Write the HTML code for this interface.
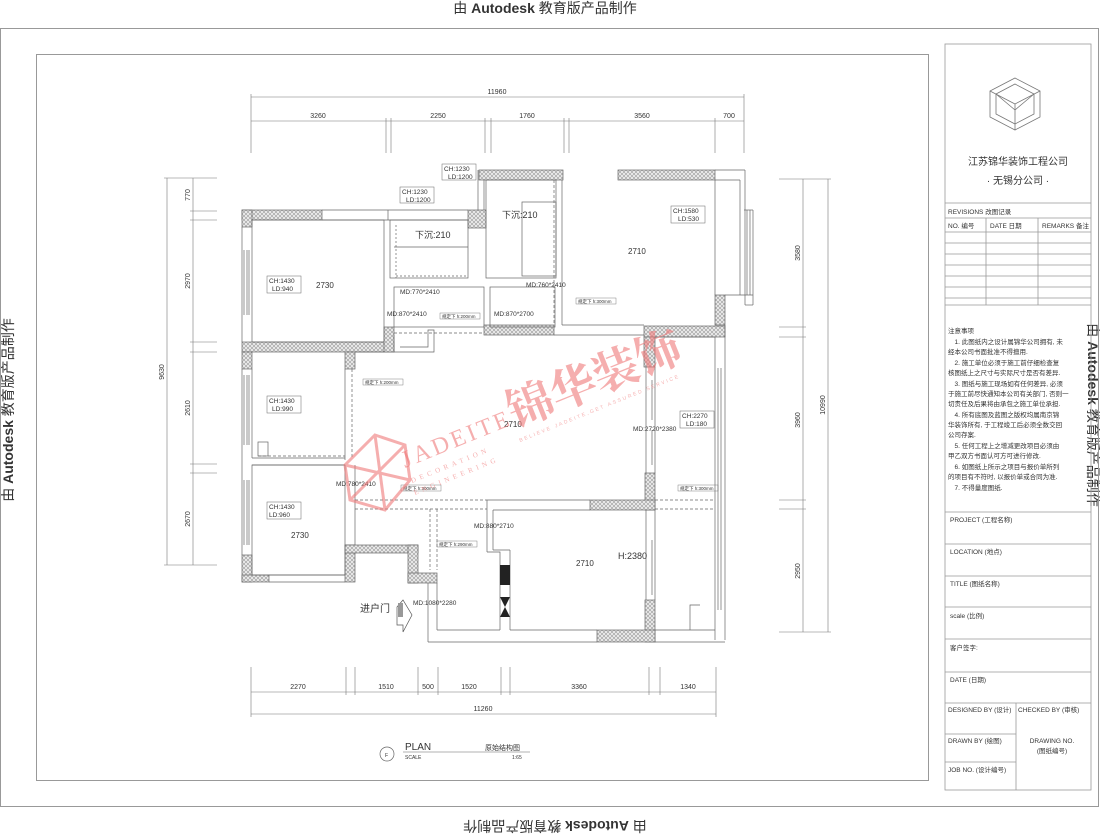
<!DOCTYPE html>
<html><head><meta charset="utf-8"><style>
html,body{margin:0;padding:0;background:#fff;}
svg{display:block;}
text{font-family:"Liberation Sans","Noto Sans CJK SC",sans-serif;fill:#333;}
</style></head><body>
<svg width="1100" height="835" viewBox="0 0 1100 835" xmlns="http://www.w3.org/2000/svg">
<defs>
<pattern id="h" width="4" height="4" patternUnits="userSpaceOnUse">
<rect width="4" height="4" fill="#e6e6e6"/>
<path d="M0 4L4 0M0 0L4 4" stroke="#888" stroke-width="0.5"/>
</pattern>
</defs>
<!-- Autodesk texts -->
<text x="545" y="13" font-size="14" text-anchor="middle">由 <tspan font-weight="bold">Autodesk</tspan> 教育版产品制作</text>
<text transform="translate(555,821) rotate(180)" font-size="14" text-anchor="middle">由 <tspan font-weight="bold">Autodesk</tspan> 教育版产品制作</text>
<text transform="translate(13,410) rotate(-90)" font-size="14" text-anchor="middle">由 <tspan font-weight="bold">Autodesk</tspan> 教育版产品制作</text>
<text transform="translate(1088,415) rotate(90)" font-size="14" text-anchor="middle">由 <tspan font-weight="bold">Autodesk</tspan> 教育版产品制作</text>

<!-- frames -->
<rect x="0.5" y="28.5" width="1098" height="778" fill="none" stroke="#999" stroke-width="1"/>
<rect x="36.5" y="54.5" width="892" height="726" fill="none" stroke="#999" stroke-width="1"/>

<!-- title block -->
<g stroke="#999" stroke-width="0.8" fill="none">
<rect x="945" y="44" width="146" height="746"/>
<line x1="945" y1="203" x2="1091" y2="203"/>
<line x1="945" y1="218" x2="1091" y2="218"/>
<line x1="945" y1="232" x2="1091" y2="232"/>
<line x1="945" y1="243" x2="1091" y2="243"/>
<line x1="945" y1="254" x2="1091" y2="254"/>
<line x1="945" y1="265" x2="1091" y2="265"/>
<line x1="945" y1="276" x2="1091" y2="276"/>
<line x1="945" y1="287" x2="1091" y2="287"/>
<line x1="945" y1="298" x2="1091" y2="298"/>
<line x1="986" y1="218" x2="986" y2="305"/>
<line x1="1038" y1="218" x2="1038" y2="305"/>
<line x1="945" y1="305" x2="1091" y2="305"/>
<line x1="945" y1="512" x2="1091" y2="512"/>
<line x1="945" y1="544" x2="1091" y2="544"/>
<line x1="945" y1="576" x2="1091" y2="576"/>
<line x1="945" y1="607" x2="1091" y2="607"/>
<line x1="945" y1="639" x2="1091" y2="639"/>
<line x1="945" y1="672" x2="1091" y2="672"/>
<line x1="945" y1="703" x2="1091" y2="703"/>
<line x1="1016" y1="703" x2="1016" y2="790"/>
<line x1="945" y1="734" x2="1016" y2="734"/>
<line x1="945" y1="762" x2="1016" y2="762"/>
</g>
<!-- logo cube -->
<g stroke="#777" stroke-width="0.8" fill="none">
<polygon points="1015,78 1040,91 1040,117 1015,130 990,117 990,91"/>
<polygon points="1015,84 1034,94 1034,114 1015,124 996,114 996,94"/>
<line x1="990" y1="91" x2="1015" y2="104"/><line x1="1040" y1="91" x2="1015" y2="104"/><line x1="1015" y1="104" x2="1015" y2="130"/>
<line x1="996" y1="94" x2="1015" y2="110"/><line x1="1034" y1="94" x2="1015" y2="110"/>
</g>
<text x="1018" y="165" font-size="10" text-anchor="middle">江苏锦华装饰工程公司</text>
<text x="1018" y="184" font-size="10" text-anchor="middle">·  无锡分公司  ·</text>
<g font-size="6.5">
<text x="948" y="214">REVISIONS 改图记录</text>
<text x="948" y="228">NO. 编号</text><text x="990" y="228">DATE 日期</text><text x="1042" y="228">REMARKS 备注</text>
<text x="948" y="333">注意事项</text>
<text x="948" y="344">　1. 此图纸内之设计属锦华公司拥有, 未</text>
<text x="948" y="354">经本公司书面批准不得擅用.</text>
<text x="948" y="365">　2. 施工单位必须于施工前仔细检查复</text>
<text x="948" y="375">核图纸上之尺寸与实际尺寸是否有差异.</text>
<text x="948" y="386">　3. 图纸与施工现场如有任何差异, 必须</text>
<text x="948" y="396">于施工前尽快通知本公司有关部门, 否则一</text>
<text x="948" y="406">切责任及后果将由承包之施工单位承担.</text>
<text x="948" y="417">　4. 所有底图及蓝图之版权均属南京锦</text>
<text x="948" y="427">华装饰所有, 于工程竣工后必须全数交回</text>
<text x="948" y="437">公司存案.</text>
<text x="948" y="448">　5. 任何工程上之增减更改项目必须由</text>
<text x="948" y="458">甲乙双方书面认可方可进行修改.</text>
<text x="948" y="469">　6. 如图纸上所示之项目与报价单所列</text>
<text x="948" y="479">的项目有不符时, 以报价单或合同为准.</text>
<text x="948" y="490">　7. 不得量度图纸.</text>
<text x="950" y="522">PROJECT (工程名称)</text>
<text x="950" y="554">LOCATION (地点)</text>
<text x="950" y="586">TITLE (图纸名称)</text>
<text x="950" y="618">scale  (比例)</text>
<text x="950" y="650">客户签字:</text>
<text x="950" y="682">DATE (日期)</text>
<text x="948" y="712">DESIGNED BY (设计)</text>
<text x="1018" y="712">CHECKED BY (审核)</text>
<text x="948" y="743">DRAWN BY (绘图)</text>
<text x="1052" y="743" text-anchor="middle">DRAWING NO.</text>
<text x="1052" y="753" text-anchor="middle">(图纸编号)</text>
<text x="948" y="772">JOB NO. (设计编号)</text>
</g>

<!-- Dimensions -->
<g stroke="#777" stroke-width="0.6" fill="none">
<line x1="251" y1="97" x2="744" y2="97"/>
<line x1="251" y1="121" x2="744" y2="121"/>
<line x1="251" y1="94" x2="251" y2="153"/><line x1="744" y1="94" x2="744" y2="153"/>
<line x1="386" y1="118" x2="386" y2="153"/><line x1="391" y1="118" x2="391" y2="153"/>
<line x1="485" y1="118" x2="485" y2="153"/><line x1="491" y1="118" x2="491" y2="153"/>
<line x1="564" y1="118" x2="564" y2="153"/><line x1="569" y1="118" x2="569" y2="153"/>
<line x1="715" y1="118" x2="715" y2="153"/>
<line x1="251" y1="692" x2="716" y2="692"/>
<line x1="251" y1="714" x2="716" y2="714"/>
<line x1="251" y1="667" x2="251" y2="717"/><line x1="716" y1="667" x2="716" y2="717"/>
<line x1="346" y1="667" x2="346" y2="695"/><line x1="355" y1="667" x2="355" y2="695"/>
<line x1="418" y1="667" x2="418" y2="695"/><line x1="438" y1="667" x2="438" y2="695"/>
<line x1="501" y1="667" x2="501" y2="695"/><line x1="510" y1="667" x2="510" y2="695"/>
<line x1="649" y1="667" x2="649" y2="695"/><line x1="660" y1="667" x2="660" y2="695"/>
<line x1="167" y1="178" x2="167" y2="565"/>
<line x1="193" y1="178" x2="193" y2="565"/>
<line x1="164" y1="178" x2="217" y2="178"/><line x1="164" y1="565" x2="217" y2="565"/>
<line x1="190" y1="211" x2="217" y2="211"/><line x1="190" y1="220" x2="217" y2="220"/>
<line x1="190" y1="342" x2="217" y2="342"/><line x1="190" y1="352" x2="217" y2="352"/>
<line x1="190" y1="464" x2="217" y2="464"/><line x1="190" y1="473" x2="217" y2="473"/>
<line x1="803" y1="179" x2="803" y2="632"/>
<line x1="828" y1="179" x2="828" y2="632"/>
<line x1="779" y1="179" x2="831" y2="179"/><line x1="779" y1="632" x2="831" y2="632"/>
<line x1="779" y1="327" x2="806" y2="327"/><line x1="779" y1="337" x2="806" y2="337"/>
<line x1="779" y1="500" x2="806" y2="500"/><line x1="779" y1="509" x2="806" y2="509"/>
</g>
<g font-size="7" text-anchor="middle">
<text x="497" y="94">11960</text>
<text x="318" y="118">3260</text><text x="438" y="118">2250</text><text x="527" y="118">1760</text><text x="642" y="118">3560</text><text x="729" y="118">700</text>
<text x="298" y="689">2270</text><text x="386" y="689">1510</text><text x="428" y="689">500</text><text x="469" y="689">1520</text><text x="579" y="689">3360</text><text x="688" y="689">1340</text>
<text x="483" y="711">11260</text>
<text transform="translate(164,372) rotate(-90)">9630</text>
<text transform="translate(190,195) rotate(-90)">770</text>
<text transform="translate(190,281) rotate(-90)">2970</text>
<text transform="translate(190,408) rotate(-90)">2610</text>
<text transform="translate(190,519) rotate(-90)">2670</text>
<text transform="translate(800,253) rotate(-90)">3580</text>
<text transform="translate(800,420) rotate(-90)">3960</text>
<text transform="translate(800,571) rotate(-90)">2950</text>
<text transform="translate(825,405) rotate(-90)">10990</text>
</g>

<!-- Walls -->
<g stroke="#666" stroke-width="0.7">
<rect x="242" y="210" width="80" height="10" fill="url(#h)"/>
<rect x="242" y="210" width="10" height="17" fill="url(#h)"/>
<rect x="242" y="342" width="152" height="10" fill="url(#h)"/>
<rect x="242" y="352" width="10" height="17" fill="url(#h)"/>
<rect x="345" y="352" width="10" height="17" fill="url(#h)"/>
<rect x="384" y="327" width="10" height="25" fill="url(#h)"/>
<rect x="242" y="555" width="10" height="27" fill="url(#h)"/>
<rect x="242" y="575" width="27" height="7" fill="url(#h)"/>
<rect x="345" y="545" width="10" height="37" fill="url(#h)"/>
<rect x="345" y="545" width="73" height="8" fill="url(#h)"/>
<rect x="408" y="545" width="10" height="38" fill="url(#h)"/>
<rect x="408" y="573" width="29" height="10" fill="url(#h)"/>
<rect x="479" y="170" width="84" height="10" fill="url(#h)"/>
<rect x="618" y="170" width="97" height="10" fill="url(#h)"/>
<rect x="468" y="210" width="18" height="18" fill="url(#h)"/>
<rect x="715" y="295" width="10" height="30" fill="url(#h)"/>
<rect x="484" y="325" width="70" height="10" fill="url(#h)"/>
<rect x="644" y="326" width="81" height="11" fill="url(#h)"/>
<rect x="644" y="337" width="11" height="30" fill="url(#h)"/>
<rect x="645" y="473" width="10" height="37" fill="url(#h)"/>
<rect x="590" y="500" width="65" height="10" fill="url(#h)"/>
<rect x="645" y="600" width="10" height="42" fill="url(#h)"/>
<rect x="597" y="630" width="58" height="12" fill="url(#h)"/>
</g>
<g stroke="#666" stroke-width="0.7" fill="none">
<line x1="322" y1="210" x2="468" y2="210"/>
<line x1="322" y1="220" x2="468" y2="220"/>
<rect x="252" y="220" width="132" height="122"/>
<line x1="242" y1="227" x2="242" y2="342"/>
<line x1="244" y1="250" x2="244" y2="315"/><line x1="247" y1="250" x2="247" y2="315"/><line x1="249" y1="250" x2="249" y2="315"/>
<line x1="242" y1="369" x2="242" y2="555"/>
<line x1="252" y1="369" x2="252" y2="458"/>
<line x1="244" y1="375" x2="244" y2="445"/><line x1="247" y1="375" x2="247" y2="445"/><line x1="249" y1="375" x2="249" y2="445"/>
<line x1="252" y1="458" x2="345" y2="458"/>
<line x1="252" y1="465" x2="345" y2="465"/>
<line x1="345" y1="369" x2="345" y2="460"/>
<rect x="252" y="465" width="93" height="110"/>
<line x1="244" y1="480" x2="244" y2="545"/><line x1="247" y1="480" x2="247" y2="545"/><line x1="249" y1="480" x2="249" y2="545"/>
<line x1="269" y1="575" x2="345" y2="575"/><line x1="269" y1="582" x2="345" y2="582"/>
<line x1="355" y1="465" x2="355" y2="545"/>
<rect x="390" y="220" width="78" height="58"/>
<line x1="394" y1="247" x2="468" y2="247"/>
<line x1="396" y1="225" x2="396" y2="278" stroke-dasharray="2,2"/>
<line x1="396" y1="276" x2="468" y2="276" stroke-dasharray="2,2"/>
<line x1="388" y1="210" x2="388" y2="220"/>
<line x1="478" y1="170" x2="478" y2="210"/>
<line x1="484" y1="180" x2="484" y2="210"/>
<rect x="486" y="180" width="70" height="98"/>
<rect x="522" y="202" width="34" height="74"/>
<line x1="554" y1="180" x2="554" y2="325" stroke-dasharray="3,2"/>
<line x1="562" y1="180" x2="562" y2="325"/>
<line x1="715" y1="170" x2="745" y2="170"/>
<line x1="745" y1="170" x2="745" y2="305"/>
<line x1="715" y1="180" x2="740" y2="180"/>
<line x1="740" y1="180" x2="740" y2="295"/>
<line x1="715" y1="180" x2="715" y2="295"/>
<line x1="725" y1="295" x2="753" y2="295"/>
<line x1="753" y1="210" x2="753" y2="305"/><line x1="745" y1="305" x2="753" y2="305"/>
<line x1="744" y1="210" x2="753" y2="210"/>
<line x1="747" y1="210" x2="747" y2="295"/><line x1="750" y1="210" x2="750" y2="295"/>
<line x1="562" y1="325" x2="644" y2="325"/>
<rect x="394" y="287" width="90" height="40"/>
<rect x="490" y="287" width="65" height="40"/>
<line x1="394" y1="333" x2="484" y2="333" stroke-dasharray="3,2"/>
<path d="M394 335 V352 H434 V330 H428 V347 H400"/>
<line x1="554" y1="335" x2="644" y2="335"/>
<line x1="355" y1="352" x2="384" y2="352"/>
<line x1="352" y1="369" x2="352" y2="458" stroke-dasharray="3,2"/>
<line x1="258" y1="456" x2="345" y2="456" stroke-dasharray="3,2"/>
<rect x="258" y="442" width="10" height="14"/>
<line x1="355" y1="500" x2="487" y2="500" stroke-dasharray="3,2"/>
<line x1="355" y1="509" x2="487" y2="509" stroke-dasharray="3,2"/>
<line x1="430" y1="509" x2="430" y2="570" stroke-dasharray="3,2"/>
<line x1="437" y1="509" x2="437" y2="570" stroke-dasharray="3,2"/>
<line x1="487" y1="500" x2="590" y2="500"/>
<line x1="487" y1="500" x2="487" y2="552"/>
<line x1="493" y1="510" x2="493" y2="550"/>
<line x1="493" y1="510" x2="590" y2="510"/>
<path d="M487 552 H500 V630"/>
<line x1="510" y1="558" x2="510" y2="630"/>
<line x1="493" y1="550" x2="510" y2="550"/>
<line x1="510" y1="550" x2="510" y2="558"/>
<line x1="437" y1="583" x2="437" y2="630"/>
<line x1="428" y1="583" x2="428" y2="642"/>
<line x1="437" y1="630" x2="500" y2="630"/>
<line x1="510" y1="630" x2="597" y2="630"/>
<line x1="428" y1="642" x2="597" y2="642"/>
<line x1="655" y1="337" x2="715" y2="337"/>
<line x1="715" y1="337" x2="715" y2="640"/>
<line x1="725" y1="325" x2="725" y2="640"/>
<line x1="718" y1="368" x2="718" y2="610"/><line x1="721" y1="368" x2="721" y2="610"/>
<line x1="655" y1="367" x2="655" y2="473"/>
<line x1="646" y1="367" x2="646" y2="473"/>
<line x1="655" y1="510" x2="655" y2="600"/>
<line x1="646" y1="510" x2="646" y2="600"/>
<line x1="652" y1="380" x2="652" y2="420"/>
<line x1="652" y1="430" x2="652" y2="465"/>
<line x1="652" y1="540" x2="652" y2="595"/>
<line x1="655" y1="500" x2="715" y2="500" stroke-dasharray="3,2"/>
<line x1="655" y1="509" x2="715" y2="509" stroke-dasharray="3,2"/>
<path d="M655 630 H715 M690 630 V605 H700"/>
<line x1="655" y1="642" x2="725" y2="642"/>
</g>
<rect x="500" y="565" width="10" height="20" fill="#222"/>
<polygon points="500,597 510,597 505,607 510,617 500,617 505,607" fill="#222"/>
<polygon points="397,607 403,600 412,615 403,632 403,625 397,625" fill="#fff" stroke="#555" stroke-width="0.7"/>
<rect x="398" y="603" width="5" height="14" fill="#999"/>
<text x="360" y="612" font-size="10">进户门</text>

<!-- labels -->
<g font-size="6.5">
<g stroke="#666" stroke-width="0.5" fill="none">
<rect x="267" y="276" width="34" height="17"/>
<rect x="267" y="396" width="34" height="17"/>
<rect x="267" y="502" width="34" height="17"/>
<rect x="400" y="187" width="34" height="16"/>
<rect x="442" y="164" width="34" height="16"/>
<rect x="671" y="206" width="34" height="17"/>
<rect x="680" y="411" width="34" height="17"/>
</g>
<text x="269" y="283">CH:1430</text><text x="272" y="291">LD:940</text>
<text x="269" y="403">CH:1430</text><text x="272" y="411">LD:990</text>
<text x="269" y="509">CH:1430</text><text x="269" y="517">LD:960</text>
<text x="402" y="194">CH:1230</text><text x="406" y="202">LD:1200</text>
<text x="444" y="171">CH:1230</text><text x="448" y="179">LD:1200</text>
<text x="673" y="213">CH:1580</text><text x="678" y="221">LD:530</text>
<text x="682" y="418">CH:2270</text><text x="686" y="426">LD:180</text>
<text x="316" y="288" font-size="8">2730</text>
<text x="291" y="538" font-size="8">2730</text>
<text x="628" y="254" font-size="8">2710</text>
<text x="504" y="427" font-size="8">2710</text>
<text x="576" y="566" font-size="8">2710</text>
<text x="400" y="294">MD:770*2410</text>
<text x="387" y="316">MD:870*2410</text>
<text x="494" y="316">MD:870*2700</text>
<text x="526" y="287">MD:760*2410</text>
<text x="633" y="431">MD:2720*2380</text>
<text x="336" y="486">MD:780*2410</text>
<text x="474" y="528">MD:880*2710</text>
<text x="413" y="605">MD:1080*2280</text>
</g>
<g font-size="4.5" stroke="#666" stroke-width="0.4">
<rect x="363" y="379" width="40" height="6" fill="none"/><text x="365" y="384" stroke="none">规定下 h:200mm</text>
<rect x="440" y="313" width="40" height="6" fill="none"/><text x="442" y="318" stroke="none">规定下 h:200mm</text>
<rect x="576" y="298" width="40" height="6" fill="none"/><text x="578" y="303" stroke="none">规定下 h:300mm</text>
<rect x="401" y="485" width="40" height="6" fill="none"/><text x="403" y="490" stroke="none">规定下 h:300mm</text>
<rect x="678" y="485" width="40" height="6" fill="none"/><text x="680" y="490" stroke="none">规定下 h:300mm</text>
<rect x="437" y="541" width="40" height="6" fill="none"/><text x="439" y="546" stroke="none">规定下 h:290mm</text>
</g>
<g font-size="9">
<text x="415" y="238">下沉:210</text>
<text x="502" y="218">下沉:210</text>
<text x="618" y="559">H:2380</text>
</g>

<circle cx="387" cy="754" r="7" fill="none" stroke="#666" stroke-width="0.7"/>
<text x="385" y="757" font-size="5">F</text>
<text x="405" y="750" font-size="10">PLAN</text>
<line x1="403" y1="752" x2="530" y2="752" stroke="#666" stroke-width="0.6"/>
<text x="405" y="759" font-size="5">SCALE</text>
<text x="485" y="750" font-size="7">原始结构图</text>
<text x="512" y="759" font-size="5">1:65</text>

<!-- watermark -->
<g opacity="0.6">
<text transform="translate(515,428) rotate(-22)" font-size="46" font-weight="bold" style="fill:#f07a7a;font-family:'Noto Serif CJK SC','Noto Sans CJK SC',serif">锦华装饰</text>
<text transform="translate(405,468) rotate(-22)" font-size="24" letter-spacing="3" style="fill:#f07a7a;font-family:'Liberation Serif',serif">JADEITE</text>
<text transform="translate(412,483) rotate(-22)" font-size="7" letter-spacing="4" style="fill:#f07a7a;font-family:'Liberation Serif',serif">DECORATION</text>
<text transform="translate(415,495) rotate(-22)" font-size="7" letter-spacing="4" style="fill:#f07a7a;font-family:'Liberation Serif',serif">ENGINEERING</text>
<text transform="translate(520,442) rotate(-22)" font-size="5" letter-spacing="2" style="fill:#f07a7a">BELIEVE JADEITE,GET ASSURED SERVICE</text>
</g>
<g opacity="0.6" fill="none" stroke="#f07a7a" stroke-width="3">
<polygon points="375,435 405,445 410,480 385,510 350,500 345,465"/>
<line x1="345" y1="465" x2="410" y2="480"/><line x1="375" y1="435" x2="385" y2="510"/>
<line x1="405" y1="445" x2="350" y2="500"/>
</g>
</svg>
</body></html>
